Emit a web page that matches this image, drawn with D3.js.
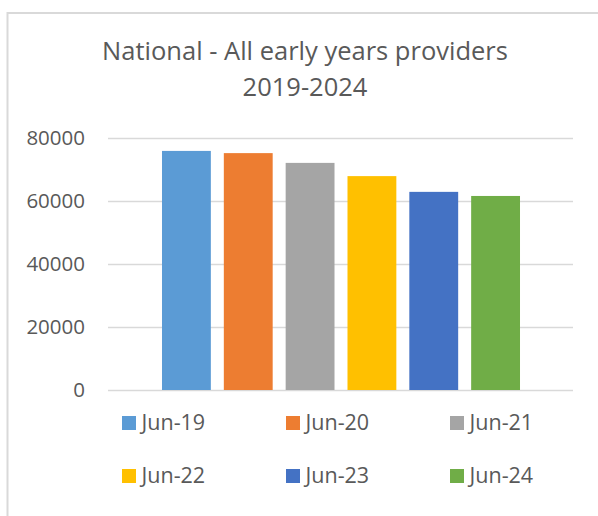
<!DOCTYPE html>
<html>
<head>
<meta charset="utf-8">
<script src="https://cdn.jsdelivr.net/npm/d3@7"></script>
<style>
  html, body { margin: 0; padding: 0; background: #fff; }
  svg { display: block; font-family: "Open Sans", sans-serif; }
</style>
</head>
<body>
<svg id="chart" width="598" height="516"></svg>
<script>
const titleLines = ["National - All early years providers", "2019-2024"];
const series = ["Jun-19", "Jun-20", "Jun-21", "Jun-22", "Jun-23", "Jun-24"];
const values = [75900, 75200, 72100, 67900, 62900, 61600];
const colors = ["#5B9BD5", "#ED7D31", "#A5A5A5", "#FFC000", "#4472C4", "#70AD47"];
const yTicks = [0, 20000, 40000, 60000, 80000];

const svg = d3.select("#chart");
const W = 598, H = 516;
const plot = { left: 108, right: 573, top: 138, bottom: 390 };

// chart area border
svg.append("rect")
  .attr("x", 7.5).attr("y", 13).attr("width", W + 10).attr("height", H + 10)
  .attr("fill", "#fff").attr("stroke", "#d9d9d9").attr("stroke-width", 2);

// title
svg.append("g").selectAll("text").data(titleLines).join("text")
  .attr("x", 305).attr("y", (d, i) => 60 + i * 36)
  .attr("text-anchor", "middle")
  .attr("fill", "#595959")
  .style("font-size", "25.5px")
  .text(d => d);

const y = d3.scaleLinear().domain([0, 80000]).range([plot.bottom, plot.top]);

const x1 = d3.scaleBand().domain(series)
  .range([155.5, 526.5]).paddingInner(0.21).paddingOuter(0.105);

// gridlines + tick labels
const yAxis = d3.axisLeft(y).tickValues(yTicks).tickSize(-(plot.right - plot.left)).tickPadding(23)
  .tickFormat(d3.format("d"));
const gAxis = svg.append("g").attr("transform", `translate(${plot.left},0)`).call(yAxis);
gAxis.select(".domain").remove();
gAxis.selectAll(".tick line").attr("stroke", "#d9d9d9").attr("stroke-width", 1.3);
gAxis.selectAll(".tick text")
  .attr("fill", "#595959")
  .style("font-size", "20.5px")
  .style("font-family", "'Open Sans', sans-serif");

// bars
svg.append("g").selectAll("rect").data(series).join("rect")
  .attr("x", d => x1(d))
  .attr("width", x1.bandwidth())
  .attr("y", (d, i) => y(values[i]))
  .attr("height", (d, i) => y(0) - y(values[i]))
  .attr("fill", (d, i) => colors[i]);

// legend
const leg = svg.append("g").selectAll("g").data(series).join("g")
  .attr("transform", (d, i) => `translate(${122 + (i % 3) * 164},${423 + Math.floor(i / 3) * 53})`);
leg.append("rect")
  .attr("x", 0).attr("y", -7).attr("width", 14).attr("height", 14)
  .attr("fill", (d, i) => colors[i]);
leg.append("text")
  .attr("x", 19.5).attr("y", 7)
  .attr("fill", "#595959")
  .style("font-size", "21.5px")
  .text(d => d);
</script>
</body>
</html>
